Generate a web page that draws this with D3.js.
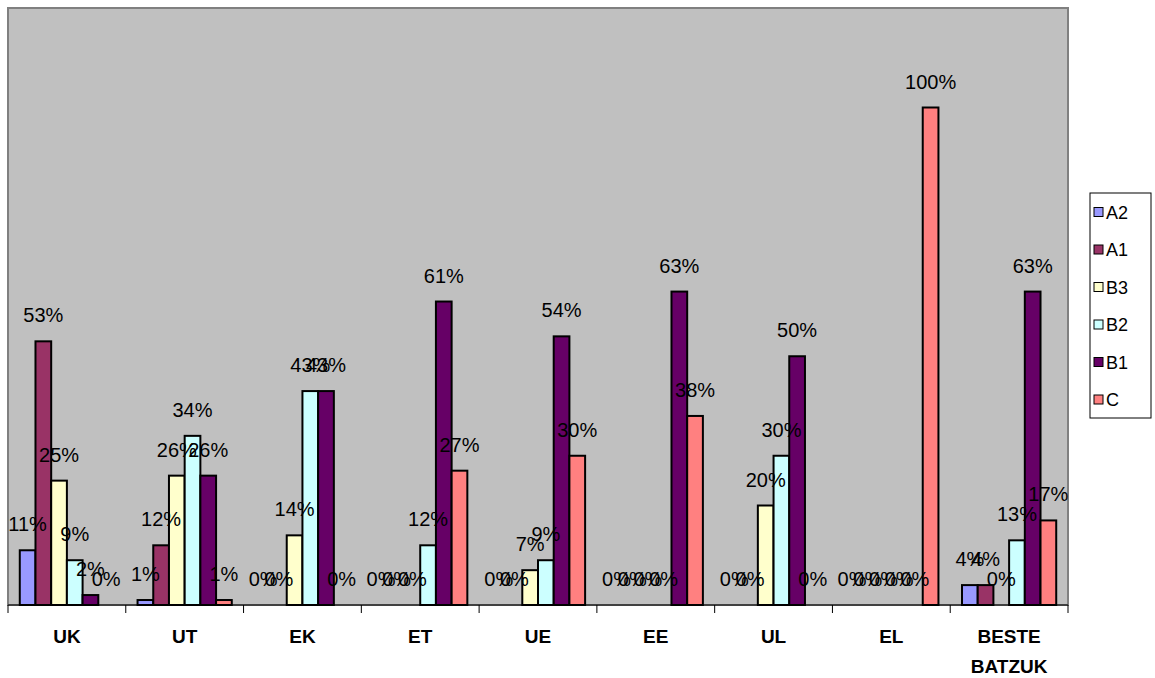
<!DOCTYPE html>
<html>
<head>
<meta charset="utf-8">
<script src="https://cdn.jsdelivr.net/npm/d3@7"></script>
<style>
  body { margin: 0; background: #fff; }
  svg { display: block; font-family: Arial, "Liberation Sans", sans-serif; }
</style>
</head>
<body>
<div id="chart"></div>
<script>
// categories and series, values in percent
const categories = ['UK', 'UT', 'EK', 'ET', 'UE', 'EE', 'UL', 'EL', 'BESTE BATZUK'];
const seriesNames = ['A2', 'A1', 'B3', 'B2', 'B1', 'C'];
const seriesColors = ['#9999FF', '#993366', '#FFFFCC', '#CCFFFF', '#660066', '#FF8080'];

const A2 = [11, 1, 0, 0, 0, 0, 0, 0, 4];
const A1 = [53, 12, 0, 0, 0, 0, 0, 0, 4];
const B3 = [25, 26, 14, 0, 7, 0, 20, 0, 0];
const B2 = [9, 34, 43, 12, 9, 0, 30, 0, 13];
const B1 = [2, 26, 43, 61, 54, 63, 50, 0, 63];
const C = [0, 1, 0, 27, 30, 38, 0, 100, 17];

const seriesValues = [A2, A1, B3, B2, B1, C];

const width = 1155;
const height = 678;
const plot = { left: 8, top: 8, right: 1068, bottom: 605 };

const svg = d3
  .select('#chart')
  .append('svg')
  .attr('width', width)
  .attr('height', height);

const x0 = d3
  .scaleBand()
  .domain(categories)
  .range([plot.left, plot.right])
  .paddingInner(0)
  .paddingOuter(0);

// Excel style gap width 150% -> 0.75 bar width each side
const barW = x0.bandwidth() / (seriesNames.length + 1.5);
const x1 = d3
  .scaleBand()
  .domain(seriesNames)
  .range([barW * 0.75, barW * 0.75 + barW * seriesNames.length]);

const y = d3.scaleLinear().domain([0, 120]).range([plot.bottom, plot.top]);

// plot background
svg
  .append('rect')
  .attr('x', plot.left)
  .attr('y', plot.top)
  .attr('width', plot.right - plot.left)
  .attr('height', plot.bottom - plot.top)
  .attr('fill', '#C0C0C0')
  .attr('stroke', '#808080')
  .attr('stroke-width', 2);

const rows = categories.map((c, i) => ({
  cat: c,
  vals: seriesNames.map((s, j) => ({ s, j, v: seriesValues[j][i] })),
}));

const groups = svg
  .append('g')
  .selectAll('g')
  .data(rows)
  .join('g')
  .attr('transform', d => `translate(${x0(d.cat)},0)`);

groups
  .selectAll('rect')
  .data(d => d.vals.filter(e => e.v > 0))
  .join('rect')
  .attr('x', e => x1(e.s))
  .attr('y', e => y(e.v))
  .attr('width', x1.bandwidth())
  .attr('height', e => y(0) - y(e.v))
  .attr('fill', e => seriesColors[e.j])
  .attr('stroke', '#000')
  .attr('stroke-width', 2);

// value labels (overlapping ones overlap in the original too)
groups
  .selectAll('text')
  .data(d => d.vals)
  .join('text')
  .attr('x', e => x1(e.s) + x1.bandwidth() / 2)
  .attr('y', e => y(e.v) - 19)
  .attr('text-anchor', 'middle')
  .attr('font-size', 20)
  .attr('fill', '#000')
  .text(e => e.v + '%');

// x axis
const xAxis = svg.append('g');
xAxis
  .append('line')
  .attr('x1', plot.left)
  .attr('x2', plot.right)
  .attr('y1', plot.bottom)
  .attr('y2', plot.bottom)
  .attr('stroke', '#000')
  .attr('stroke-width', 1);

const tickPos = categories.map(c => x0(c)).concat([plot.right]);
xAxis
  .selectAll('line.tick')
  .data(tickPos)
  .join('line')
  .attr('class', 'tick')
  .attr('x1', d => d)
  .attr('x2', d => d)
  .attr('y1', plot.bottom)
  .attr('y2', plot.bottom + 8)
  .attr('stroke', '#000');

const catLabels = xAxis
  .selectAll('text')
  .data(categories)
  .join('text')
  .attr('x', d => x0(d) + x0.bandwidth() / 2)
  .attr('y', 643)
  .attr('text-anchor', 'middle')
  .attr('font-size', 19)
  .attr('font-weight', 'bold');

catLabels.each(function (d) {
  const words = d.split(' ');
  const t = d3.select(this);
  words.forEach((w, i) => {
    t.append('tspan')
      .attr('x', x0(d) + x0.bandwidth() / 2)
      .attr('dy', i === 0 ? 0 : 30)
      .text(w);
  });
});

// legend
const legend = svg.append('g').attr('transform', 'translate(1090,193)');
legend
  .append('rect')
  .attr('width', 61)
  .attr('height', 225)
  .attr('fill', '#fff')
  .attr('stroke', '#000');

const item = legend
  .selectAll('g')
  .data(seriesNames)
  .join('g')
  .attr('transform', (d, i) => `translate(0,${19 + i * 37.5})`);

item
  .append('rect')
  .attr('x', 4)
  .attr('y', -4.5)
  .attr('width', 9)
  .attr('height', 9)
  .attr('fill', (d, i) => seriesColors[i])
  .attr('stroke', '#000');

item
  .append('text')
  .attr('x', 16)
  .attr('y', 6.5)
  .attr('font-size', 18)
  .text(d => d);
</script>
</body>
</html>
